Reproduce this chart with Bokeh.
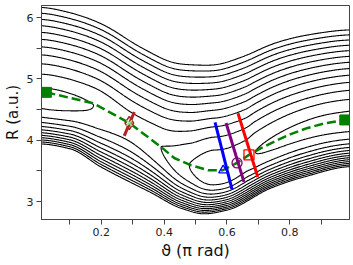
import numpy as np
from bokeh.plotting import figure
from bokeh.models import Range1d, FixedTicker
from bokeh.embed import file_html
from bokeh.resources import INLINE

# ---------------- data ----------------
# minimum energy path (green dashed)
path_theta = [0.025, 0.175, 0.289, 0.390, 0.432, 0.486, 0.540, 0.587, 0.635, 0.670, 0.708, 0.760, 0.803, 0.857, 0.908, 0.975]
path_R     = [4.78, 4.60, 4.28, 3.89, 3.71, 3.59, 3.51, 3.51, 3.64, 3.76, 3.87, 4.00, 4.10, 4.20, 4.27, 4.33]

# valley floor of the surface and energy along it (contour-spacing units)
valley_theta = [0.0, 0.175, 0.289, 0.390, 0.432, 0.486, 0.540, 0.587, 0.635, 0.670, 0.708, 0.760, 0.803, 0.857, 0.908, 1.0]
valley_R     = [4.71, 4.58, 4.28, 3.89, 3.71, 3.59, 3.51, 3.51, 3.64, 3.76, 3.87, 4.00, 4.10, 4.20, 4.27, 4.33]
energy_theta = [0.0, 0.03, 0.175, 0.29, 0.39, 0.48, 0.56, 0.62, 0.66, 0.69, 0.80, 1.0]
energy_U     = [-0.33, -0.36, 0.0, 0.45, 0.0, -1.0, -1.9, -1.85, -1.8, -2.0, -2.25, -2.4]
# highest contour on the outer (large R) side and on the inner (small R) side
top_theta = [0.0, 0.1, 0.2, 0.33, 0.45, 0.55, 0.65, 0.75, 0.85, 1.0]
top_R     = [6.17, 6.08, 5.90, 5.50, 5.24, 5.22, 5.36, 5.58, 5.71, 5.80]
bot_theta = [0.0, 0.1, 0.2, 0.36, 0.454, 0.527, 0.60, 0.74, 0.845, 1.0]
bot_R     = [3.94, 3.86, 3.56, 3.14, 2.89, 2.80, 2.86, 3.22, 3.40, 3.57]
contour_levels = [-2, -1, 0, 1, 2, 3, 4, 5, 6, 7, 8, 9, 10]

# dividing-surface lines and markers
ts1_line_theta = [0.273, 0.305]
ts1_line_R     = [4.07, 4.46]
ts1_point      = (0.289, 4.28)
blue_line_theta = [0.562, 0.616]
blue_line_R     = [4.29, 3.20]
blue_point      = (0.588, 3.51)
purple_line_theta = [0.597, 0.654]
purple_line_R     = [4.28, 3.32]
purple_point      = (0.632, 3.63)
red_line_theta = [0.635, 0.698]
red_line_R     = [4.44, 3.40]
red_point      = (0.670, 3.76)

x_major_ticks = [0.2, 0.4, 0.6, 0.8]
x_minor_ticks = [0.1, 0.3, 0.5, 0.7, 0.9]
y_major_ticks = [3, 4, 5, 6]
y_minor_ticks = [3.5, 4.5, 5.5]


def pchip(xk, yk, x, end_slope=True):
    xk = np.asarray(xk, float)
    yk = np.asarray(yk, float)
    h = np.diff(xk)
    delta = np.diff(yk) / h
    d = np.zeros_like(yk)
    for k in range(1, len(xk) - 1):
        if delta[k - 1] * delta[k] > 0:
            w1 = 2 * h[k] + h[k - 1]
            w2 = h[k] + 2 * h[k - 1]
            d[k] = (w1 + w2) / (w1 / delta[k - 1] + w2 / delta[k])
    if end_slope:
        d[0] = delta[0]
        d[-1] = delta[-1]
    x = np.asarray(x, float)
    xc = np.clip(x, xk[0], xk[-1])
    i = np.clip(np.searchsorted(xk, xc) - 1, 0, len(h) - 1)
    t = (xc - xk[i]) / h[i]
    y = ((2 * t**3 - 3 * t**2 + 1) * yk[i] + (t**3 - 2 * t**2 + t) * h[i] * d[i]
         + (-2 * t**3 + 3 * t**2) * yk[i + 1] + (t**3 - t**2) * h[i] * d[i + 1])
    y = np.where(x < xk[0], yk[0] + d[0] * (x - xk[0]), y)
    y = np.where(x > xk[-1], yk[-1] + d[-1] * (x - xk[-1]), y)
    return y


def smooth(y, x, sigma):
    out = np.empty_like(y)
    for k, xv in enumerate(x):
        w = np.exp(-0.5 * ((x - xv) / sigma) ** 2)
        out[k] = np.sum(w * y) / np.sum(w)
    return out


# model potential surface on a grid
p_out, p_in = 1.5, 2.42
top_level = contour_levels[-1]
th = np.linspace(-0.1, 1.1, 480)
RR = np.linspace(2.6, 6.4, 420)
Re1 = smooth(pchip(valley_theta, valley_R, th), th, 0.02)
Rs1 = smooth(Re1, th, 0.06)          # smoother floor for the upper contours
T1 = smooth(pchip(top_theta, top_R, th, end_slope=False), th, 0.02)
U1 = pchip(energy_theta, energy_U, th, end_slope=False)
B1 = pchip(bot_theta, bot_R, th, end_slope=False)

s_grid = np.linspace(0.0, 1.4, 700)
V = np.empty((RR.size, th.size))
for j in range(th.size):
    re, rs, t, u, b = Re1[j], Rs1[j], T1[j], U1[j], B1[j]
    # upper side: fractional level coordinate s (s=1 at the highest contour)
    r_line = re + (rs - re) * np.minimum(1.0, s_grid / 0.35) + (t - rs) * s_grid
    r_line = np.maximum.accumulate(r_line + 1e-7 * s_grid)
    s = np.interp(RR, r_line, s_grid)
    s = np.where(RR > r_line[-1], s_grid[-1] + (RR - r_line[-1]) / (t - rs), s)
    v_out = u + (top_level - u) * s ** p_out
    # lower side
    ai = (re - b) / (top_level - u) ** (1 / p_in)
    v_in = u + (np.abs(RR - re) / ai) ** p_in
    V[:, j] = np.where(RR > re, v_out, v_in)

p = figure(width=353, height=265, x_range=Range1d(0.0095, 0.990), y_range=Range1d(2.707, 6.196),
           output_backend="svg", toolbar_location=None,
           min_border_left=40, min_border_right=4, min_border_top=5, min_border_bottom=46)
p.xgrid.grid_line_color = None
p.ygrid.grid_line_color = None
p.outline_line_color = "#444444"
p.outline_line_width = 1
p.background_fill_color = "white"

p.contour(th, RR, V, levels=contour_levels, line_color="black", line_width=1.1)

p.line(path_theta, path_R, line_color="#008000", line_width=2.5, line_dash="9 4")
p.scatter([path_theta[0], path_theta[-1]], [path_R[0], path_R[-1]], marker="square", size=10,
          fill_color="#008000", line_color="#008000")

p.line(ts1_line_theta, ts1_line_R, line_color="#b22222", line_width=3)
p.line(blue_line_theta, blue_line_R, line_color="blue", line_width=3)
p.line(purple_line_theta, purple_line_R, line_color="purple", line_width=3)
p.line(red_line_theta, red_line_R, line_color="red", line_width=3)

p.scatter([ts1_point[0]], [ts1_point[1]], marker="diamond", size=13, fill_color=None,
          line_color="#b22222", line_width=1.5)
p.scatter([ts1_point[0]], [ts1_point[1]], marker="x", size=8, line_color="#90ee90", line_width=1.5)
p.scatter([blue_point[0]], [blue_point[1]], marker="triangle", size=9, fill_color=None,
          line_color="blue", line_width=1.3)
p.scatter([purple_point[0]], [purple_point[1]], marker="circle", size=10, fill_color=None,
          line_color="purple", line_width=1.3)
p.scatter([red_point[0]], [red_point[1]], marker="square", size=10, fill_color=None,
          line_color="red", line_width=1.3)

for ax in (p.xaxis[0], p.yaxis[0]):
    ax.axis_line_color = "#444444"
    ax.major_tick_line_color = "#444444"
    ax.minor_tick_line_color = "#444444"
    ax.major_tick_out = 5
    ax.minor_tick_out = 5
    ax.major_tick_in = 0
    ax.minor_tick_in = 0
    ax.major_label_text_font = "DejaVu Sans"
    ax.major_label_text_font_size = "11px"
    ax.major_label_text_color = "#222222"
    ax.major_label_standoff = 3
    ax.axis_label_text_font = "DejaVu Sans"
    ax.axis_label_text_font_style = "normal"
    ax.axis_label_text_color = "#111111"

p.xaxis.ticker = FixedTicker(ticks=x_major_ticks, minor_ticks=x_minor_ticks)
p.yaxis.ticker = FixedTicker(ticks=y_major_ticks, minor_ticks=y_minor_ticks)
p.xaxis.axis_label = "ϑ (π rad)"
p.xaxis.axis_label_text_font_size = "16px"
p.xaxis.axis_label_standoff = 2
p.yaxis.axis_label = "R (a.u.)"
p.yaxis.axis_label_text_font_size = "15px"
p.yaxis.axis_label_standoff = 2

open("out.html", "w").write(file_html(p, INLINE))
